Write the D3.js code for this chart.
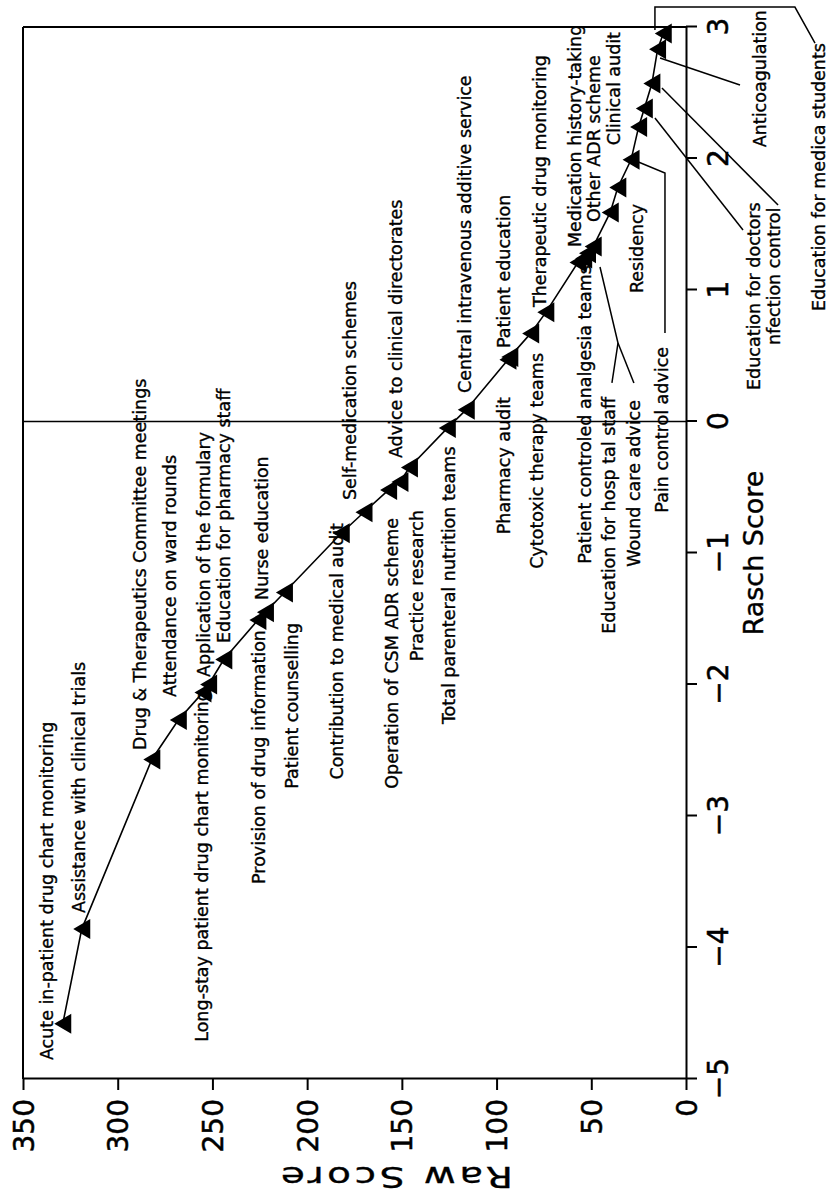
<!DOCTYPE html>
<html>
<head>
<meta charset="utf-8">
<script src="https://cdn.jsdelivr.net/npm/d3@7"></script>
<style>
  body { margin: 0; background: #fff; }
  svg { display: block; }
  text { font-family: "DejaVu Sans", sans-serif; fill: #000; }
</style>
</head>
<body>
<svg id="chart" width="834" height="1201"></svg>
<script>
// Pharmacy services: raw score vs Rasch score
const services = [
  "Acute in-patient drug chart monitoring",
  "Assistance with clinical trials",
  "Drug & Therapeutics Committee meetings",
  "Attendance on ward rounds",
  "Long-stay patient drug chart monitoring",
  "Application of the formulary",
  "Education for pharmacy staff",
  "Provision of drug information",
  "Nurse education",
  "Patient counselling",
  "Contribution to medical audit",
  "Self-medication schemes",
  "Operation of CSM ADR scheme",
  "Practice research",
  "Advice to clinical directorates",
  "Total parenteral nutrition teams",
  "Central intravenous additive service",
  "Pharmacy audit",
  "Patient education",
  "Cytotoxic therapy teams",
  "Therapeutic drug monitoring",
  "Patient controled analgesia teams",
  "Education for hosp tal staff",
  "Wound care advice",
  "Medication history-taking",
  "Residency",
  "Other ADR scheme",
  "Pain control advice",
  "Clinical audit",
  "Education for doctors",
  "nfection control",
  "Anticoagulation",
  "Education for medica students"
];
const rawScore = [329, 319, 282, 268, 255, 252, 244, 226, 222, 212, 182, 170, 157, 151, 146, 126, 116, 94, 93, 82, 74, 57, 54, 52, 49, 40, 36, 29, 25, 22, 18, 15, 12];
const raschScore = [-4.58, -3.86, -2.57, -2.27, -2.06, -2.00, -1.81, -1.51, -1.45, -1.30, -0.85, -0.69, -0.52, -0.46, -0.35, -0.05, 0.09, 0.47, 0.49, 0.67, 0.83, 1.21, 1.24, 1.28, 1.33, 1.59, 1.78, 1.99, 2.24, 2.38, 2.57, 2.83, 2.95];

const raschTicks = [-5, -4, -3, -2, -1, 0, 1, 2, 3];
const rawTicks = [0, 50, 100, 150, 200, 250, 300, 350];

// Label anchors in data units (raw at text baseline, rasch at anchor end)
const labelRaw = [334.2, 317.3, 285.1, 269.2, 252.3, 251.3, 240.7, 222.2, 220.7, 204.8, 181.1, 174.2, 152.0, 138.8, 149.9, 121.9, 113.5, 92.9, 92.9, 75.5, 73.9, 50.2, 37.5, 24.3, 55.4, 22.7, 45.4, 9.5, 34.8, -39.1, -49.6, -42.2, -73.3];
const labelRasch = [-4.856, -3.738, -2.498, -2.095, -2.042, -1.943, -1.684, -1.586, -1.357, -1.532, -0.772, -0.597, -0.734, -0.673, -0.278, -0.190, 0.217, 0.186, 0.559, 0.521, 0.871, 1.190, 0.186, 0.163, 1.327, 0.977, 1.517, 0.567, 2.962, 0.240, 0.582, 3.129, 2.878];
const labelAnchor = ["start", "start", "start", "start", "end", "start", "start", "end", "start", "end", "end", "start", "end", "end", "start", "end", "start", "end", "start", "end", "start", "end", "end", "end", "start", "start", "start", "end", "end", "start", "start", "end", "end"];

// Leader lines, as [raw, rasch] vertices
const leaders = [
  [[11.1, 0.673], [11.1, 1.890], [26.4, 1.981]],
  [[45.4, 1.175], [35.9, 0.597], [39.1, 0.293]],
  [[35.9, 0.597], [27.5, 0.293]],
  [[12.7, 2.536], [-48.6, 1.646]],
  [[16.4, 2.308], [-30.1, 1.456]],
  [[13.7, 2.764], [-28.5, 2.559]],
  [[16.4, 2.977], [16.4, 3.152], [-57.5, 3.152], [-68.1, 2.878]]
];

const W = 1201;   // drawing frame width before rotation
const svg = d3.select("#chart");
const g = svg.append("g").attr("transform", `translate(0,${W}) rotate(-90)`);

const x = d3.scaleLinear().domain([-5, 3]).range([122, 1174]);
const y = d3.scaleLinear().domain([0, 350]).range([686, 23]);

const points = services.map((s, i) => ({ name: s, raw: rawScore[i], rasch: raschScore[i] }));

// frame
g.append("line").attr("x1", x(-5)).attr("x2", x(3)).attr("y1", y(350)).attr("y2", y(350))
  .attr("stroke", "#000").attr("stroke-width", 2);
g.append("line").attr("x1", x(3)).attr("x2", x(3)).attr("y1", y(350)).attr("y2", y(0))
  .attr("stroke", "#000").attr("stroke-width", 2);
// Rasch = 0 reference
g.append("line").attr("x1", x(0)).attr("x2", x(0)).attr("y1", y(350)).attr("y2", y(0))
  .attr("stroke", "#000").attr("stroke-width", 1.6);

// Rasch axis
const xAxis = g.append("g").attr("transform", `translate(0,${y(0)})`)
  .call(d3.axisBottom(x).tickValues(raschTicks).tickSize(11).tickSizeOuter(0));
xAxis.select(".domain").attr("stroke-width", 2);
xAxis.selectAll(".tick line").attr("stroke-width", 2);
xAxis.selectAll(".tick text").attr("y", 42).attr("dy", 0)
  .style("font-family", "DejaVu Sans").style("font-size", "28px")
  .attr("stroke", "#000").attr("stroke-width", 0.5);

// Raw axis
const yAxis = g.append("g").attr("transform", `translate(${x(-5)},0)`)
  .call(d3.axisLeft(y).tickValues(rawTicks).tickSize(11).tickSizeOuter(0));
yAxis.select(".domain").attr("stroke-width", 2);
yAxis.selectAll(".tick line").attr("stroke-width", 2);
yAxis.selectAll(".tick text").attr("x", -20).attr("dy", "0.36em")
  .style("font-family", "DejaVu Sans").style("font-size", "28px")
  .attr("stroke", "#000").attr("stroke-width", 0.5);

// axis titles
g.append("text").attr("x", (x(-5) + x(3)) / 2).attr("y", y(0) + 77)
  .attr("text-anchor", "middle").style("font-size", "27px")
  .attr("stroke", "#000").attr("stroke-width", 0.4).text("Rasch Score");
g.append("text").attr("transform", `translate(34,397) rotate(-90) scale(1.35,1)`)
  .attr("text-anchor", "middle").attr("textLength", 172).attr("lengthAdjust", "spacing")
  .style("font-size", "29px").attr("stroke", "#000").attr("stroke-width", 0.3)
  .text("Raw Score");

// curve
const line = d3.line().x(d => x(d.rasch)).y(d => y(d.raw));
g.append("path").datum(points).attr("d", line)
  .attr("fill", "none").attr("stroke", "#000").attr("stroke-width", 1.6);

// leaders
const leaderLine = d3.line().x(d => x(d[1])).y(d => y(d[0]));
g.selectAll("path.leader").data(leaders).join("path").attr("class", "leader")
  .attr("d", leaderLine).attr("fill", "none").attr("stroke", "#000").attr("stroke-width", 1.5);

// triangle markers
const tw = 20, th = 17;
g.selectAll("path.mark").data(points).join("path").attr("class", "mark")
  .attr("transform", d => `translate(${x(d.rasch)},${y(d.raw)})`)
  .attr("d", `M0,${-th / 2}L${tw / 2},${th / 2}L${-tw / 2},${th / 2}Z`)
  .attr("fill", "#000");

// service labels
g.selectAll("text.lab").data(points).join("text").attr("class", "lab")
  .attr("x", (d, i) => x(labelRasch[i]))
  .attr("y", (d, i) => y(labelRaw[i]))
  .attr("text-anchor", (d, i) => labelAnchor[i])
  .style("font-size", "17.5px")
  .attr("stroke", "#000").attr("stroke-width", 0.35)
  .text(d => d.name);
</script>
</body>
</html>
